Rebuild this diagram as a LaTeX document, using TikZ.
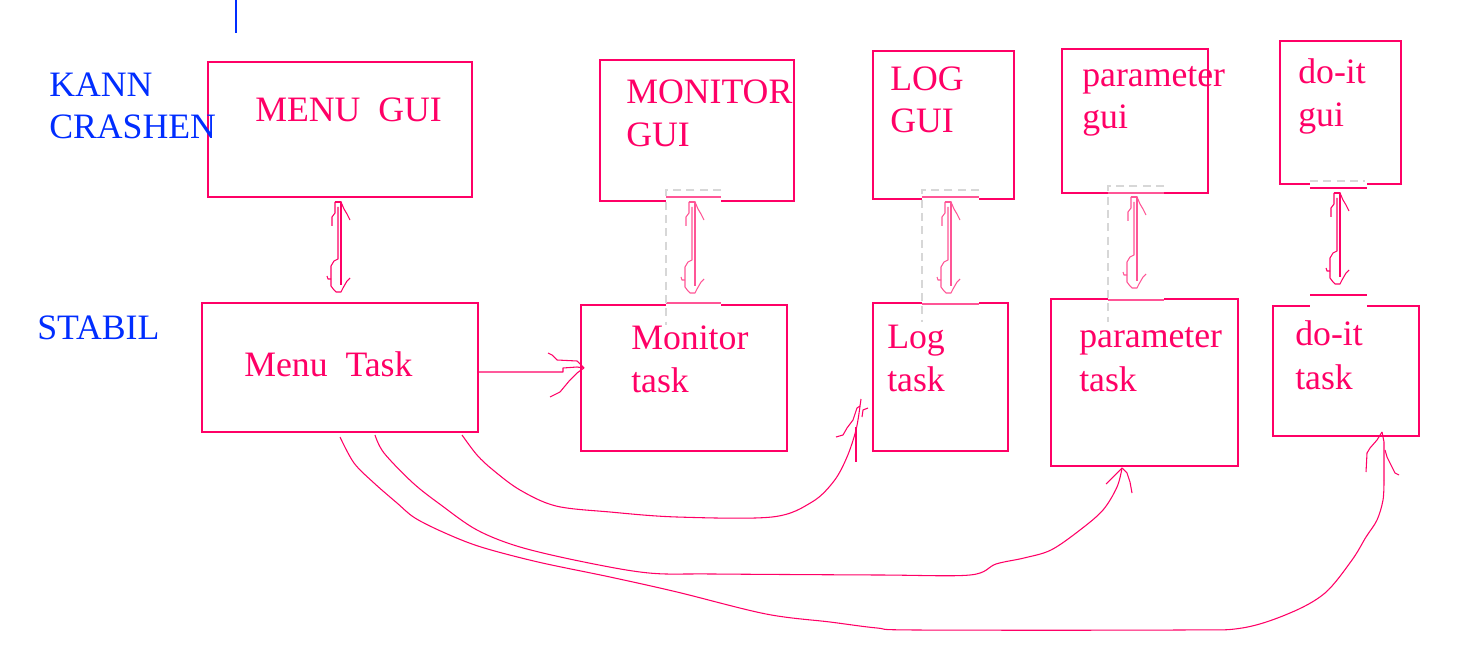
\documentclass[tikz,border=0pt]{standalone}
\usepackage{fontspec}
\setmainfont{Liberation Serif}
\usetikzlibrary{calc,fit}
\definecolor{pk}{RGB}{255,0,102}
\definecolor{pkl}{RGB}{255,85,150}
\definecolor{bl}{RGB}{0,45,255}
\definecolor{gr}{RGB}{215,215,215}
\tikzset{
  box/.style={draw=pk, line width=1.5pt, inner sep=0pt},
  txt/.style={inner sep=0pt, anchor=base west, text=pk, font=\fontsize{26.8}{32}\selectfont},
  btxt/.style={txt, text=bl},
  thinl/.style={draw=pk, line width=0.8pt, line join=round},
  wipe/.style={draw=white, line width=2.6pt},
  seg/.style={draw=pkl, line width=1.5pt},
  gdash/.style={draw=gr, line width=0.8pt, dash pattern=on 6pt off 4pt},
}
\newcommand\dblarr[4]{%
  \draw[thinl,#4] ({#1-3},{#2}) -- ({#1-3},{#2+11}) -- ({#1-6},{#2+15}) -- ({#1-6},{#2+24});
  \draw[thinl,#4] ({#1},{#2+5}) -- ({#1},{#3-33}) -- ({#1-4},{#3-31}) -- ({#1-7},{#3-26}) -- ({#1-7},{#3-6}) -- ({#1-4},{#3-2}) -- ({#1-2},{#3}) -- ({#1+3},{#3}) -- ({#1+5},{#3-4}) -- ({#1+9},{#3-11}) -- ({#1+12},{#3-14});
  \draw[thinl,#4] ({#1-3},{#2}) -- ({#1+3},{#2}) -- ({#1+3},{#3-7});
  \draw[thinl,#4] ({#1+3},{#2}) -- ({#1+6},{#2+7}) -- ({#1+9},{#2+12}) -- ({#1+12},{#2+18});
  \draw[thinl,#4] ({#1-11},{#3-16}) -- ({#1-10},{#3-13}) -- ({#1-7},{#3-13});
}
\begin{document}
\begin{tikzpicture}[x=0.75pt,y=-0.75pt]
\fill[white] (0,0) rectangle (1469,670);
\useasboundingbox (0,0) rectangle (1469,670);

% blue tick at the top
\coordinate (tickA) at (236,0);
\coordinate (tickB) at (236,33);
\draw[bl, line width=0.8pt] (tickA) -- (tickB);

% boxes
\node[box, fit={(208,62)(472,197)}] (mgui) {};
\node[box, fit={(600,60)(794,201)}] (mogui) {};
\node[box, fit={(873,51)(1014,199)}] (lgui) {};
\node[box, fit={(1062,49)(1208,193)}] (pgui) {};
\node[box, fit={(1280,41)(1401,184)}] (dgui) {};
\node[box, fit={(202,303)(478,432)}] (mtask) {};
\node[box, fit={(581,305)(787,451)}] (motask) {};
\node[box, fit={(873,303)(1008,451)}] (ltask) {};
\node[box, fit={(1051,299)(1238,466)}] (ptask) {};
\node[box, fit={(1273,306)(1419,436)}] (dtask) {};

% edge artefacts (monitor)
\draw[wipe] (666,201) -- (721,201);
\draw[seg] (666,197) -- (721,197);
\draw[wipe] (666,305) -- (721,305);
\draw[seg] (666,303) -- (721,303);
\draw[gdash] (721,190) -- (666,190) -- (666,325);
% log
\draw[wipe] (922,199) -- (979,199);
\draw[seg] (922,197) -- (979,197);
\draw[wipe] (922,303) -- (979,303);
\draw[seg] (922,304) -- (979,304);
\draw[gdash] (979,190) -- (922,190) -- (922,322);
% parameter
\draw[wipe] (1108,193) -- (1164,193);
\draw[seg] (1108,193.5) -- (1164,193.5);
\draw[wipe] (1108,299) -- (1164,299);
\draw[seg] (1108,300) -- (1164,300);
\draw[gdash] (1164,186) -- (1108,186) -- (1108,322);
% do-it
\draw[wipe] (1310,184) -- (1367,184);
\draw[gdash] (1310,181) -- (1365,181);
\draw[seg, draw=pk] (1310,188) -- (1367,188);
\draw[wipe] (1310,306) -- (1367,306);
\draw[seg, draw=pk] (1310,295) -- (1367,295);

% texts
\node[btxt] (kann) at (49,97) {KANN};
\node[btxt] (crash) at (49,139) {CRASHEN};
\node[btxt] (stabil) at (37,339) {STABIL};
\node[txt] (t1) at (255,122) {MENU\ \ GUI};
\node[txt] (t2a) at (626,104) {MONITOR};
\node[txt] (t2b) at (626,147) {GUI};
\node[txt] (t3a) at (890,91) {LOG};
\node[txt] (t3b) at (890,133) {GUI};
\node[txt] (t4a) at (1082,87) {parameter};
\node[txt] (t4b) at (1082,129) {gui};
\node[txt] (t5a) at (1298,84) {do-it};
\node[txt] (t5b) at (1298,127) {gui};
\node[txt] (u1) at (244,376) {Menu\ \ Task};
\node[txt] (u2a) at (631,349) {Monitor};
\node[txt] (u2b) at (631,392) {task};
\node[txt] (u3a) at (887,348) {Log};
\node[txt] (u3b) at (887,391) {task};
\node[txt] (u4a) at (1079,347) {parameter};
\node[txt] (u4b) at (1079,391) {task};
\node[txt] (u5a) at (1295,345) {do-it};
\node[txt] (u5b) at (1295,389) {task};

% double arrows gui <-> task
\dblarr{338}{202}{292}{draw=pk}
\dblarr{692}{202}{293}{draw=pkl}
\dblarr{948}{202}{293}{draw=pkl}
\dblarr{1134}{197}{288}{draw=pkl}
\dblarr{1337}{193}{284}{draw=pk}

% Menu Task -> Monitor task
\coordinate (a0) at ($(mtask.east)+(0,4.5)$);
\coordinate (a1) at ($(motask.west)+(4,-10)$);
\draw[thinl] (a0) -- (563,372) -- (563,368) -- (577,367) -- (a1);
\draw[thinl] (548,353) -- (552,355) -- (557,360) -- (577,361) -- (582,366) -- (a1);
\draw[thinl] (550,397) -- (560,392) -- (570,380) -- (577,373) -- (a1);

% Menu Task -> Log task
\coordinate (c1s) at ($(mtask.south west)+(261,2)$);
\coordinate (c1e) at ($(ltask.south west)+(-12,-46)$);
\draw[thinl] plot[smooth, tension=0.55] coordinates {(c1s) (477,455) (493,470) (520,490) (556,506) (610,512) (677,517) (772,517) (812,502) (834,481) (847,457) (856,430) (c1e)};
\draw[thinl] (861,399) -- (c1e) -- (857,408) -- (853,420) -- (847,428) -- (843,435) -- (836,437);
\draw[thinl] (862,417) -- (863,410) -- (868,408);
\draw[thinl] (856,427) -- (856,462);

% Menu Task -> parameter task
\coordinate (c2s) at ($(mtask.south west)+(174,2)$);
\coordinate (c2e) at ($(ptask.south west)+(72,1)$);
\draw[thinl] plot[smooth, tension=0.55] coordinates {(c2s) (384,453) (413,483) (441,505) (477,530) (520,547) (584,562) (649,573) (713,574) (880,575) (970,575) (996,564) (1024,558) (1051,550) (1080,530) (1103,510) (1117,487) (c2e)};
\draw[thinl] (c2e) -- (1117,473) -- (1112,478) -- (1106,484);
\draw[thinl] (c2e) -- (1127,473) -- (1130,482) -- (1132,493);

% Menu Task -> do-it task
\coordinate (c3s) at ($(mtask.south west)+(139,4)$);
\coordinate (c3e) at ($(dtask.south west)+(110,-5)$);
\draw[thinl] plot[smooth, tension=0.55] coordinates {(c3s) (354,463) (374,483) (397,503) (415,518) (445,533) (481,547) (538,562) (610,577) (677,592) (766,614) (830,622) (877,628) (917,630) (1178,630) (1242,628) (1290,613) (1325,593) (1352,560) (1366,537) (1377,520) (1383,500) (1384,480)};
\draw[thinl] (1384,480) -- (1384,442) -- (c3e);
\draw[thinl] (c3e) -- (1377,440) -- (1370,448) -- (1367,453) -- (1366,472);
\draw[thinl] (1385,450) -- (1387,457) -- (1392,467) -- (1395,473) -- (1399,475);
\end{tikzpicture}
\end{document}
